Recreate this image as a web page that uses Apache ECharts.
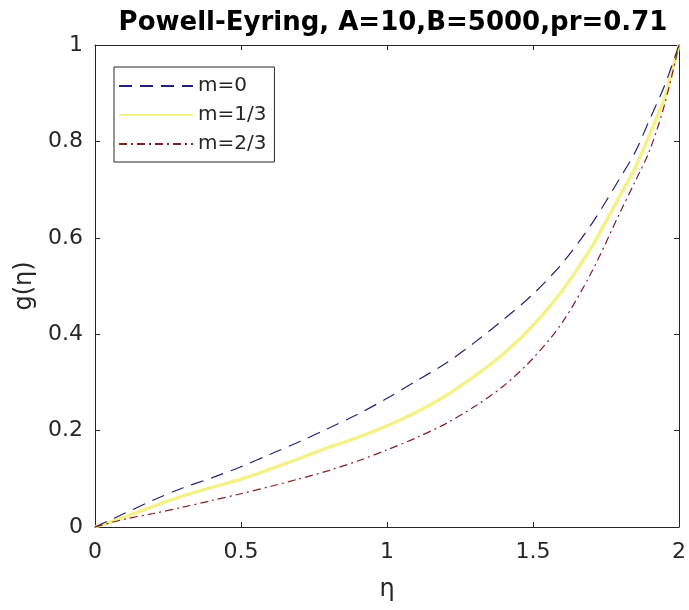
<!DOCTYPE html>
<html>
<head>
<meta charset="utf-8">
<script src="https://cdn.jsdelivr.net/npm/echarts@6/dist/echarts.min.js"></script>
<style>
html,body{margin:0;padding:0;background:#fff;}
#chart{width:689px;height:610px;}
</style>
</head>
<body>
<div id="chart"></div>
<script>
const eta = [0,0.1,0.2,0.3,0.4,0.5,0.6,0.7,0.8,0.9,1.0,1.1,1.2,1.3,1.4,1.5,1.6,1.7,1.8,1.85,1.9,1.95,2.0];
const m0  = [0,0.028,0.056,0.081,0.102,0.125,0.151,0.177,0.205,0.234,0.267,0.303,0.339,0.383,0.431,0.483,0.547,0.628,0.726,0.778,0.846,0.915,1.0];
const m13 = [0,0.020,0.043,0.064,0.082,0.099,0.120,0.142,0.165,0.186,0.210,0.238,0.272,0.313,0.360,0.418,0.490,0.580,0.690,0.745,0.815,0.890,1.0];
const m23 = [0,0.016,0.028,0.041,0.055,0.069,0.084,0.100,0.117,0.137,0.160,0.185,0.214,0.250,0.293,0.350,0.424,0.528,0.655,0.717,0.782,0.875,1.0];
const xTicks = [0,0.5,1,1.5,2];
const yTicks = [0,0.2,0.4,0.6,0.8,1];
const names = ['m=0','m=1/3','m=2/3'];

const pair = (ys) => eta.map((x,i)=>[x,ys[i]]);
const font = 'DejaVu Sans';
const txt = '#262626';
const fmt = v => String(v);

const chart = echarts.init(document.getElementById('chart'));
const axisLine = {show:true, onZero:false, lineStyle:{color:'#262626', width:1}};
const axisTick = {show:true, inside:true, length:5, lineStyle:{color:'#262626'}};
chart.setOption({
  animation:false,
  backgroundColor:'#fff',
  title:{
    text:'Powell-Eyring, A=10,B=5000,pr=0.71',
    left:388, top:5, textAlign:'center',
    textStyle:{fontFamily:font, fontWeight:'bold', fontSize:26, color:'#000'}
  },
  grid:{left:95, right:7, top:45, bottom:83},
  legend:{
    data:names,
    orient:'vertical',
    left:114, top:67,
    itemWidth:74, itemHeight:14, itemGap:9,
    padding:[9,8,8,4],
    borderColor:'#262626', borderWidth:1,
    backgroundColor:'#fff',
    itemStyle:{opacity:0},
    textStyle:{fontFamily:font, fontSize:20, color:txt}
  },
  xAxis:[
    {type:'value', min:0, max:2, interval:0.5, position:'bottom',
      axisLine, axisTick, splitLine:{show:false},
      name:'η', nameLocation:'middle', nameGap:51,
      nameTextStyle:{fontFamily:font, fontSize:24, color:txt},
      axisLabel:{fontFamily:font, fontSize:22, color:txt, margin:14, formatter:fmt, customValues:xTicks}},
    {type:'value', min:0, max:2, interval:0.5, position:'top',
      axisLine, axisTick, splitLine:{show:false}, axisLabel:{show:false}}
  ],
  yAxis:[
    {type:'value', min:0, max:1, interval:0.2, position:'left',
      axisLine, axisTick, splitLine:{show:false},
      name:'g(η)', nameLocation:'middle', nameGap:52, nameRotate:90,
      nameTextStyle:{fontFamily:font, fontSize:24, color:txt},
      axisLabel:{fontFamily:font, fontSize:22, color:txt, margin:12, formatter:fmt, customValues:yTicks}},
    {type:'value', min:0, max:1, interval:0.2, position:'right',
      axisLine, axisTick, splitLine:{show:false}, axisLabel:{show:false}}
  ],
  series:[
    {name:names[0], type:'line', data:pair(m0), showSymbol:false, symbol:'none', smooth:0.3,
      lineStyle:{color:'#22227a', width:1.2, type:[13,8]}, itemStyle:{color:'#22227a'}, z:3},
    {name:names[1], type:'line', data:pair(m13), showSymbol:false, symbol:'none', smooth:0.3,
      lineStyle:{color:'#f2f07a', width:3.5, opacity:0.9}, itemStyle:{color:'#f2f07a'}, z:2},
    {name:names[2], type:'line', data:pair(m23), showSymbol:false, symbol:'none', smooth:0.3,
      lineStyle:{color:'#8a1c2a', width:1.2, type:[8,4,2,4]}, itemStyle:{color:'#8a1c2a'}, z:4}
  ]
});
</script>
</body>
</html>
